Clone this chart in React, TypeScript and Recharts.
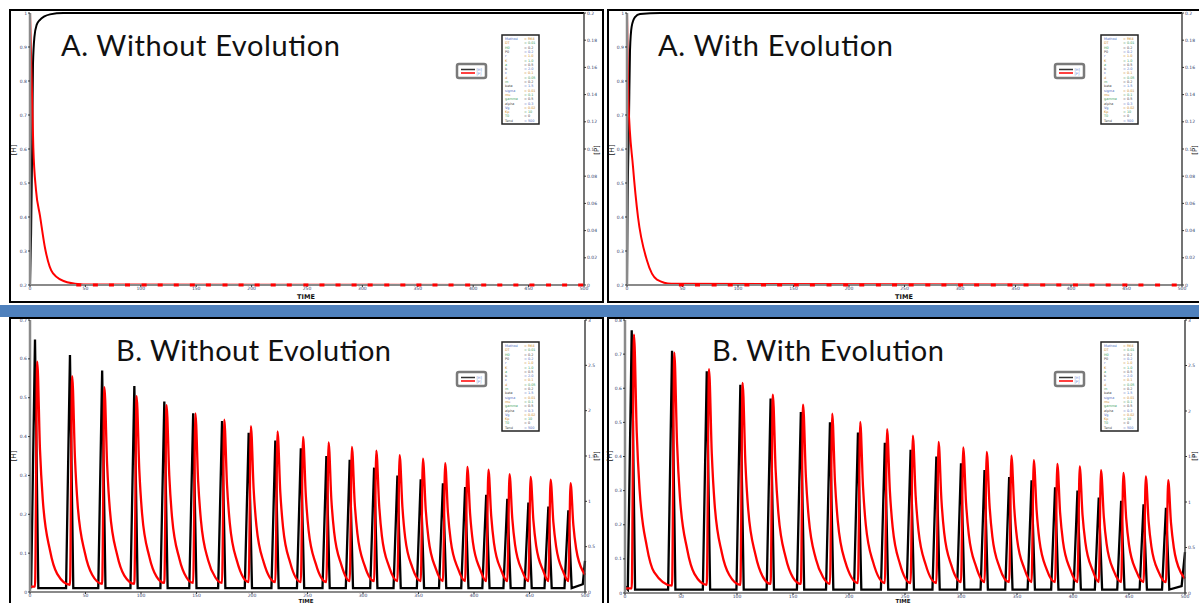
import { LineChart, Line, XAxis, YAxis } from "recharts";

type Pt = [number, number];

// axis ticks
const timeTicks = [0, 50, 100, 150, 200, 250, 300, 350, 400, 450, 500];
const aHostTicks = [0.2, 0.3, 0.4, 0.5, 0.6, 0.7, 0.8, 0.9, 1];
const aParasiteTicks = [0, 0.02, 0.04, 0.06, 0.08, 0.1, 0.12, 0.14, 0.16, 0.18, 0.2];
const bNoEvoHostTicks = [0, 0.1, 0.2, 0.3, 0.4, 0.5, 0.6, 0.7];
const bEvoHostTicks = [0, 0.1, 0.2, 0.3, 0.4, 0.5, 0.6, 0.7, 0.8];
const bParasiteTicks = [0, 0.5, 1, 1.5, 2, 2.5, 3];

// A. without evolution
const aNoEvoHost: Pt[] = [
  [0, 0.2], [1, 0.35], [2, 0.62], [2.7, 0.85], [4, 0.93], [6, 0.965], [9, 0.98],
  [13, 0.99], [18, 0.996], [30, 1], [500, 1],
];
const aNoEvoParasite: Pt[] = [
  [0, 0.2], [1.5, 0.151], [3, 0.101], [5.4, 0.07], [9, 0.051], [13.6, 0.027],
  [20.8, 0.0085], [33.5, 0.002], [48, 0.0004], [500, 0],
];
const aNoEvoMarks = [
  44, 59, 73.5, 88, 103, 117.5, 132, 146.5, 161, 176, 190.5, 205, 219.5, 234, 249, 263.5,
  278, 292.5, 307, 322, 336.5, 351, 365.5, 380, 395, 409.5, 424, 438.5, 453, 468, 482.5, 497,
];

// A. with evolution
const aEvoHost: Pt[] = [
  [0, 0.2], [0.6, 0.45], [1.8, 0.69], [2.7, 0.89], [4.2, 0.96], [7.2, 0.988],
  [11.7, 0.997], [30, 1], [500, 1],
];
const aEvoParasite: Pt[] = [
  [0, 0.2], [1.2, 0.136], [5.4, 0.087], [9.9, 0.05], [18, 0.018], [27, 0.004],
  [40, 0.001], [500, 0],
];
const aEvoMarks = [
  49, 63.5, 78.5, 93, 108, 123, 137.5, 152.5, 167, 182, 197, 211.5, 226.5, 241, 256, 271,
  285.5, 300.5, 315, 330, 345, 359.5, 374.5, 389, 404, 419, 433.5, 448.5, 463, 478, 493,
];

// B. without evolution
const bNoEvoHost: Pt[] = [
  [0, 0.02],
  [1, 0.01], [4.5, 0.65], [7.5, 0.01],
  [32.5, 0.01], [36, 0.61], [39, 0.01],
  [61.5, 0.01], [65, 0.57], [68, 0.01],
  [90.5, 0.01], [94, 0.53], [97, 0.01],
  [117.5, 0.01], [121, 0.49], [124, 0.01],
  [143.5, 0.01], [147, 0.46], [150, 0.01],
  [169.5, 0.01], [173, 0.44], [176, 0.01],
  [193.5, 0.01], [197, 0.41], [200, 0.01],
  [217.5, 0.01], [221, 0.39], [224, 0.01],
  [240.5, 0.01], [244, 0.37], [247, 0.01],
  [263.5, 0.01], [267, 0.35], [270, 0.01],
  [284.5, 0.01], [288, 0.34], [291, 0.01],
  [306.5, 0.01], [310, 0.32], [313, 0.01],
  [327.5, 0.01], [331, 0.3], [334, 0.01],
  [348.5, 0.01], [352, 0.29], [355, 0.01],
  [368.5, 0.01], [372, 0.28], [375, 0.01],
  [388.5, 0.01], [392, 0.27], [395, 0.01],
  [407.5, 0.01], [411, 0.25], [414, 0.01],
  [426.5, 0.01], [430, 0.24], [433, 0.01],
  [445.5, 0.01], [449, 0.23], [452, 0.01],
  [463.5, 0.01], [467, 0.22], [470, 0.01],
  [481.5, 0.01], [485, 0.21], [488, 0.01],
  [498, 0.02], [500, 0.08],
];
const bNoEvoParasite: Pt[] = [
  [0, 0.06],
  [4.5, 0.06], [6.5, 2.54], [9, 1.57], [11.5, 1.02], [18, 0.46], [24.5, 0.2],
  [36, 0.08], [38, 2.38], [40.5, 1.48], [43, 0.95], [49.5, 0.43], [56, 0.19],
  [65, 0.09], [67, 2.26], [69.5, 1.4], [72, 0.9], [78.5, 0.41], [85, 0.18],
  [94, 0.09], [96, 2.16], [98.5, 1.34], [101, 0.86], [107.5, 0.39], [114, 0.17],
  [121, 0.1], [123, 2.06], [125.5, 1.28], [128, 0.82], [134.5, 0.37], [141, 0.16],
  [147, 0.1], [149, 1.97], [151.5, 1.22], [154, 0.79], [160.5, 0.35], [167, 0.16],
  [173, 0.1], [175, 1.9], [177.5, 1.18], [180, 0.76], [186.5, 0.34],
  [197, 0.11], [199, 1.83], [201.5, 1.13], [204, 0.73], [210.5, 0.33],
  [221, 0.11], [223, 1.77], [225.5, 1.1], [228, 0.71], [234.5, 0.32],
  [244, 0.11], [246, 1.71], [248.5, 1.06], [251, 0.68], [257.5, 0.31],
  [267, 0.11], [269, 1.65], [271.5, 1.02], [274, 0.66], [280.5, 0.3],
  [288, 0.12], [290, 1.6], [292.5, 0.99], [295, 0.64], [301.5, 0.29],
  [310, 0.12], [312, 1.56], [314.5, 0.97], [317, 0.62], [323.5, 0.28],
  [331, 0.12], [333, 1.51], [335.5, 0.94], [338, 0.6], [344.5, 0.27],
  [352, 0.12], [354, 1.47], [356.5, 0.91], [359, 0.59], [365.5, 0.26],
  [372, 0.12], [374, 1.42], [376.5, 0.88], [379, 0.57], [385.5, 0.26],
  [392, 0.12], [394, 1.38], [396.5, 0.86], [399, 0.55], [405.5, 0.25],
  [411, 0.12], [413, 1.35], [415.5, 0.84], [418, 0.54], [424.5, 0.24],
  [430, 0.12], [432, 1.3], [434.5, 0.81], [437, 0.52], [443.5, 0.23],
  [449, 0.12], [451, 1.27], [453.5, 0.79], [456, 0.51], [462.5, 0.23],
  [467, 0.12], [469, 1.24], [471.5, 0.77], [474, 0.5], [480.5, 0.22],
  [485, 0.12], [487, 1.2], [489.5, 0.74], [492, 0.48], [498.5, 0.22],
  [500, 0.19],
];

// B. with evolution
const bEvoHost: Pt[] = [
  [0, 0.02],
  [2.5, 0.01], [6, 0.77], [9, 0.01],
  [38.5, 0.01], [42, 0.71], [45, 0.01],
  [69.5, 0.01], [73, 0.65], [76, 0.01],
  [99.5, 0.01], [103, 0.61], [106, 0.01],
  [126.5, 0.01], [130, 0.57], [133, 0.01],
  [153.5, 0.01], [157, 0.53], [160, 0.01],
  [179.5, 0.01], [183, 0.5], [186, 0.01],
  [204.5, 0.01], [208, 0.47], [211, 0.01],
  [228.5, 0.01], [232, 0.44], [235, 0.01],
  [251.5, 0.01], [255, 0.42], [258, 0.01],
  [274.5, 0.01], [278, 0.4], [281, 0.01],
  [296.5, 0.01], [300, 0.38], [303, 0.01],
  [317.5, 0.01], [321, 0.36], [324, 0.01],
  [339.5, 0.01], [343, 0.34], [346, 0.01],
  [359.5, 0.01], [363, 0.33], [366, 0.01],
  [380.5, 0.01], [384, 0.31], [387, 0.01],
  [400.5, 0.01], [404, 0.3], [407, 0.01],
  [419.5, 0.01], [423, 0.28], [426, 0.01],
  [439.5, 0.01], [443, 0.27], [446, 0.01],
  [459.5, 0.01], [463, 0.26], [466, 0.01],
  [479.5, 0.01], [483, 0.25], [486, 0.01],
  [497, 0.02], [500, 0.12],
];
const bEvoParasite: Pt[] = [
  [0, 0.05],
  [6, 0.05], [8, 2.84], [10.5, 1.76], [13, 1.14], [19.5, 0.51], [26, 0.23],
  [42, 0.08], [44, 2.64], [46.5, 1.64], [49, 1.06], [55.5, 0.48], [62, 0.21],
  [73, 0.09], [75, 2.46], [77.5, 1.53], [80, 0.98], [86.5, 0.44], [93, 0.2],
  [103, 0.09], [105, 2.31], [107.5, 1.43], [110, 0.92], [116.5, 0.42], [123, 0.18],
  [130, 0.1], [132, 2.18], [134.5, 1.35], [137, 0.87], [143.5, 0.39], [150, 0.17],
  [157, 0.1], [159, 2.07], [161.5, 1.28], [164, 0.83], [170.5, 0.37], [177, 0.17],
  [183, 0.1], [185, 1.97], [187.5, 1.22], [190, 0.79], [196.5, 0.35],
  [208, 0.11], [210, 1.88], [212.5, 1.17], [215, 0.75], [221.5, 0.34],
  [232, 0.11], [234, 1.8], [236.5, 1.12], [239, 0.72], [245.5, 0.32],
  [255, 0.11], [257, 1.73], [259.5, 1.07], [262, 0.69], [268.5, 0.31],
  [278, 0.11], [280, 1.66], [282.5, 1.03], [285, 0.66], [291.5, 0.3],
  [300, 0.12], [302, 1.6], [304.5, 0.99], [307, 0.64], [313.5, 0.29],
  [321, 0.12], [323, 1.55], [325.5, 0.96], [328, 0.62], [334.5, 0.28],
  [343, 0.12], [345, 1.51], [347.5, 0.94], [350, 0.6], [356.5, 0.27],
  [363, 0.12], [365, 1.46], [367.5, 0.91], [370, 0.58], [376.5, 0.26],
  [384, 0.12], [386, 1.42], [388.5, 0.88], [391, 0.57], [397.5, 0.26],
  [404, 0.12], [406, 1.39], [408.5, 0.86], [411, 0.56], [417.5, 0.25],
  [423, 0.12], [425, 1.35], [427.5, 0.84], [430, 0.54], [436.5, 0.24],
  [443, 0.12], [445, 1.32], [447.5, 0.82], [450, 0.53], [456.5, 0.24],
  [463, 0.12], [465, 1.28], [467.5, 0.79], [470, 0.51], [476.5, 0.23],
  [483, 0.12], [485, 1.24], [487.5, 0.77], [490, 0.5], [496.5, 0.22],
  [500, 0.16],
];

// parameter list printed in the small boxes
const paramRows: [string, string][] = [
  ["Method", "RK4"], ["DT", "0.01"], ["H0", "0.2"], ["P0", "0.2"], ["r", "1.0"],
  ["K", "1.0"], ["a", "0.5"], ["b", "2.0"], ["c", "0.1"], ["d", "0.05"],
  ["m", "0.2"], ["beta", "1.5"], ["sigma", "0.01"], ["mu", "0.1"], ["gamma", "0.5"],
  ["alpha", "0.3"], ["Vg", "0.02"], ["Kp", "10"], ["T0", "0"], ["Tend", "500"],
];
const paramColors = ["#4b6cc1", "#c98a2a", "#3c9b5a", "#444"];

const tickStyle = { fontSize: 4.5, fill: "#33406b", fontFamily: "DejaVu Sans" };
const toRows = (pts: Pt[]) => pts.map(([t, v]) => ({ t, v }));

const redMark = (p: any) => (
  <rect key={`m${p.index}`} x={p.cx - 2.5} y={p.cy - 1.5} width={5} height={3} fill="#ff0000" />
);

type PanelProps = {
  left: number;
  top: number;
  width: number;
  height: number;
  leftW: number;
  rightW: number;
  axisH: number;
  hostDomain: [number, number];
  hostTicks: number[];
  parDomain: [number, number];
  parTicks: number[];
  host: Pt[];
  parasite: Pt[];
  marks?: number[];
  hostCurve: "linear" | "monotone";
  lineW: number;
};

function Panel(p: PanelProps) {
  return (
    <div style={{ position: "absolute", left: p.left, top: p.top }}>
      <LineChart width={p.width} height={p.height} margin={{ top: 13, right: 0, bottom: 0, left: 0 }}>
        <XAxis
          type="number"
          dataKey="t"
          domain={[0, 500]}
          ticks={timeTicks}
          interval={0}
          height={p.axisH}
          axisLine={{ stroke: "#8a8a8a", strokeWidth: 2 }}
          tickLine={{ stroke: "#333" }}
          tickSize={2}
          tickMargin={0}
          tick={tickStyle}
        />
        <YAxis
          yAxisId="h"
          domain={p.hostDomain}
          ticks={p.hostTicks}
          interval={0}
          width={p.leftW}
          axisLine={{ stroke: "#8a8a8a", strokeWidth: 2.5 }}
          tickLine={{ stroke: "#333" }}
          tickSize={2}
          tickMargin={1}
          tick={tickStyle}
        />
        <YAxis
          yAxisId="p"
          orientation="right"
          domain={p.parDomain}
          ticks={p.parTicks}
          interval={0}
          width={p.rightW}
          axisLine={{ stroke: "#444", strokeWidth: 1.5 }}
          tickLine={{ stroke: "#333" }}
          tickSize={2}
          tickMargin={1}
          tick={tickStyle}
        />
        <Line
          yAxisId="h"
          data={toRows(p.host)}
          dataKey="v"
          type={p.hostCurve}
          stroke="#000"
          strokeWidth={p.lineW}
          dot={false}
          isAnimationActive={false}
        />
        <Line
          yAxisId="p"
          data={toRows(p.parasite)}
          dataKey="v"
          type="monotone"
          stroke="#ff0000"
          strokeWidth={p.lineW}
          dot={false}
          isAnimationActive={false}
        />
        {p.marks && (
          <Line
            yAxisId="p"
            data={p.marks.map((t) => ({ t, v: 0 }))}
            dataKey="v"
            stroke="none"
            dot={redMark}
            isAnimationActive={false}
          />
        )}
      </LineChart>
    </div>
  );
}

function MiniLegend({ x, y }: { x: number; y: number }) {
  return (
    <g>
      <rect x={x} y={y} width={29} height={14} rx={2} fill="#fff" stroke="#7a7a7a" strokeWidth={2.5} />
      <line x1={x + 4} x2={x + 18} y1={y + 5.5} y2={y + 5.5} stroke="#333" strokeWidth={1.5} />
      <line x1={x + 4} x2={x + 18} y1={y + 9} y2={y + 9} stroke="#ff0000" strokeWidth={1.5} />
      <text x={x + 19.5} y={y + 7} fontSize={3.5} fill="#5a7bd0" fontFamily="DejaVu Sans">[H]</text>
      <text x={x + 19.5} y={y + 10.5} fontSize={3.5} fill="#5a7bd0" fontFamily="DejaVu Sans">[P]</text>
    </g>
  );
}

function ParamBox({ x, y }: { x: number; y: number }) {
  return (
    <g fontFamily="DejaVu Sans" fontSize={3.4}>
      <rect x={x} y={y} width={37} height={89} fill="#fff" stroke="#222" strokeWidth={1.5} />
      {paramRows.map(([k, v], i) => (
        <g key={k}>
          <text x={x + 3} y={y + 5 + i * 4.3} fill={paramColors[i % 4]}>{k}</text>
          <text x={x + 22} y={y + 5 + i * 4.3} fill={paramColors[(i + 1) % 4]}>= {v}</text>
        </g>
      ))}
    </g>
  );
}

const titleFont = { fontFamily: "Lato", fontSize: 29, fill: "#111" };
const axisTitle = { fontFamily: "DejaVu Sans", fontSize: 7, fill: "#111" };
const timeTitle = { fontFamily: "DejaVu Sans", fontSize: 6.5, fill: "#111", fontWeight: 700 };
const timeTitleLow = { fontFamily: "DejaVu Sans", fontSize: 5.5, fill: "#111", fontWeight: 700 };

export default function App() {
  return (
    <div style={{ position: "absolute", left: 0, top: 0, width: 1199, height: 603, background: "#fff", overflow: "hidden" }}>
      <Panel
        left={0} top={0} width={603} height={303} leftW={30} rightW={19} axisH={18}
        hostDomain={[0.2, 1]} hostTicks={aHostTicks} parDomain={[0, 0.2]} parTicks={aParasiteTicks}
        host={aNoEvoHost} parasite={aNoEvoParasite} marks={aNoEvoMarks} hostCurve="monotone" lineW={2}
      />
      <Panel
        left={605} top={0} width={594} height={303} leftW={22} rightW={17} axisH={18}
        hostDomain={[0.2, 1]} hostTicks={aHostTicks} parDomain={[0, 0.2]} parTicks={aParasiteTicks}
        host={aEvoHost} parasite={aEvoParasite} marks={aEvoMarks} hostCurve="monotone" lineW={2}
      />
      <Panel
        left={0} top={307} width={603} height={296} leftW={30} rightW={18} axisH={11}
        hostDomain={[0, 0.7]} hostTicks={bNoEvoHostTicks} parDomain={[0, 3]} parTicks={bParasiteTicks}
        host={bNoEvoHost} parasite={bNoEvoParasite} hostCurve="linear" lineW={2.3}
      />
      <Panel
        left={605} top={307} width={594} height={296} leftW={20} rightW={14} axisH={10}
        hostDomain={[0, 0.8]} hostTicks={bEvoHostTicks} parDomain={[0, 3]} parTicks={bParasiteTicks}
        host={bEvoHost} parasite={bEvoParasite} hostCurve="linear" lineW={2.3}
      />
      <svg
        width={1199}
        height={603}
        style={{ position: "absolute", left: 0, top: 0, pointerEvents: "none" }}
      >
        {/* panel frames and separator band */}
        <rect x={10} y={10} width={593} height={292} fill="none" stroke="#000" strokeWidth={2} />
        <rect x={608} y={10} width={600} height={292} fill="none" stroke="#000" strokeWidth={2} />
        <rect x={10} y={318} width={593} height={300} fill="none" stroke="#000" strokeWidth={2} />
        <rect x={608} y={318} width={600} height={300} fill="none" stroke="#000" strokeWidth={2} />
        <rect x={0} y={305} width={1199} height={12} fill="#4f81bd" />

        {/* titles */}
        <text x={61} y={56} textLength={279} lengthAdjust="spacing" style={titleFont}>A. Without Evolution</text>
        <text x={658} y={56} textLength={235} lengthAdjust="spacing" style={titleFont}>A. With Evolution</text>
        <text x={116} y={361} textLength={275} lengthAdjust="spacing" style={titleFont}>B. Without Evolution</text>
        <text x={712} y={361} textLength={232} lengthAdjust="spacing" style={titleFont}>B. With Evolution</text>

        {/* axis titles */}
        <text x={306} y={299} textAnchor="middle" style={timeTitle}>TIME</text>
        <text x={904} y={299} textAnchor="middle" style={timeTitle}>TIME</text>
        <text x={306} y={603} textAnchor="middle" style={timeTitleLow}>TIME</text>
        <text x={903} y={603} textAnchor="middle" style={timeTitleLow}>TIME</text>
        <text transform="translate(16,150) rotate(-90)" textAnchor="middle" style={axisTitle}>[H]</text>
        <text transform="translate(614,150) rotate(-90)" textAnchor="middle" style={axisTitle}>[H]</text>
        <text transform="translate(16,456) rotate(-90)" textAnchor="middle" style={axisTitle}>[H]</text>
        <text transform="translate(612,456) rotate(-90)" textAnchor="middle" style={axisTitle}>[H]</text>
        <text transform="translate(599,150) rotate(-90)" textAnchor="middle" style={axisTitle}>[P]</text>
        <text transform="translate(1197,150) rotate(-90)" textAnchor="middle" style={axisTitle}>[P]</text>
        <text transform="translate(599,456) rotate(-90)" textAnchor="middle" style={axisTitle}>[P]</text>
        <text transform="translate(1197,456) rotate(-90)" textAnchor="middle" style={axisTitle}>[P]</text>

        {/* legends */}
        <MiniLegend x={457} y={64} />
        <MiniLegend x={1055} y={64} />
        <MiniLegend x={457} y={372} />
        <MiniLegend x={1055} y={372} />
        <ParamBox x={502} y={35} />
        <ParamBox x={1101} y={35} />
        <ParamBox x={502} y={342} />
        <ParamBox x={1101} y={342} />
      </svg>
    </div>
  );
}
